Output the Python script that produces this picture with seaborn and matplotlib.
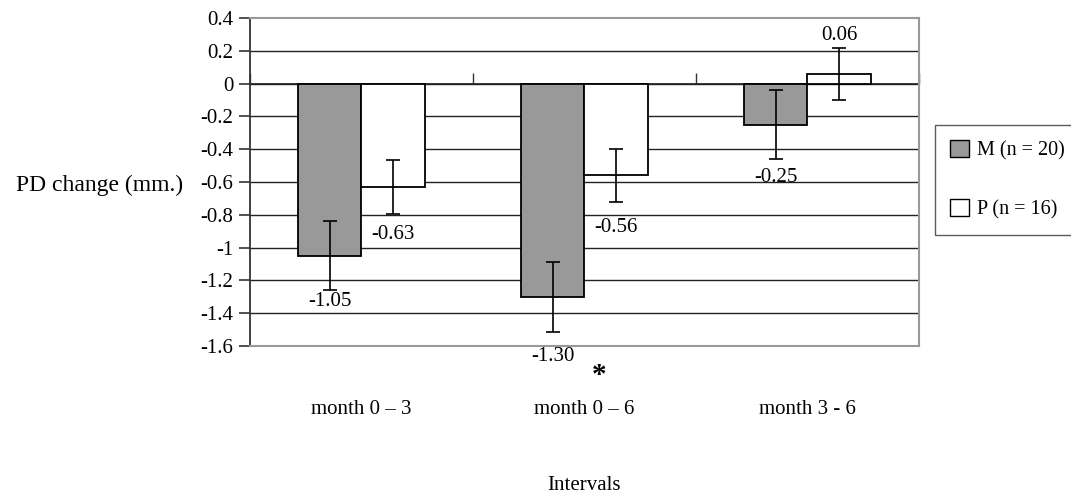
import matplotlib
matplotlib.use("Agg")
import matplotlib.pyplot as plt
import seaborn as sns
import pandas as pd
import numpy as np
from matplotlib.patches import Patch

sns.set_theme(style="white")
plt.rcParams['font.family'] = ['Liberation Serif', 'DejaVu Serif']
plt.rcParams['text.color'] = 'black'
plt.rcParams['axes.labelcolor'] = 'black'
plt.rcParams['xtick.color'] = 'black'
plt.rcParams['ytick.color'] = 'black'

intervals = ["month 0 \u2013 3", "month 0 \u2013 6", "month 3 - 6"]
groups = ["M (n = 20)", "P (n = 16)"]
m_values = [-1.05, -1.30, -0.25]
p_values = [-0.63, -0.56, 0.06]
m_err = [0.21, 0.215, 0.21]
p_err = [0.165, 0.16, 0.16]
m_labels = ["-1.05", "-1.30", "-0.25"]
p_labels = ["-0.63", "-0.56", "0.06"]
yticks = [0.4, 0.2, 0, -0.2, -0.4, -0.6, -0.8, -1, -1.2, -1.4, -1.6]
ytick_labels = ["0.4", "0.2", "0", "-0.2", "-0.4", "-0.6", "-0.8", "-1", "-1.2", "-1.4", "-1.6"]

df = pd.DataFrame({
    "Interval": intervals * 2,
    "Group": [groups[0]] * 3 + [groups[1]] * 3,
    "Value": m_values + p_values,
})

FS = 15

fig = plt.figure(figsize=(10.71, 4.97), dpi=100)
ax = fig.add_axes([0.2334, 0.3038, 0.6246, 0.66])

colors = {groups[0]: "#999999", groups[1]: "#ffffff"}
sns.barplot(data=df, x="Interval", y="Value", hue="Group", palette=colors,
            width=0.57, edgecolor="black", linewidth=1.3, ax=ax, legend=False,
            errorbar=None, zorder=3)

ax.set_ylim(-1.6, 0.4)
ax.set_xlim(-0.5, 2.5)

# gridlines
for yv in yticks[1:-1]:
    ax.axhline(yv, color="#222222", lw=1.0, zorder=1)

# error bars and labels
errs = [m_err, p_err]
labels = [m_labels, p_labels]
offsets = [[-46, -60, -53], [-48, -52, 38]]
bar_containers = list(ax.containers)
for ci, cont in enumerate(bar_containers):
    for bi, bar in enumerate(cont.patches):
        xc = bar.get_x() + bar.get_width() / 2
        val = bar.get_height()
        ax.errorbar(xc, val, yerr=errs[ci][bi], fmt="none", ecolor="black",
                    elinewidth=1.2, capsize=5, capthick=1.2, zorder=4)
        ax.annotate(labels[ci][bi], (xc, val), xytext=(0, offsets[ci][bi] * 0.72),
                    textcoords="offset points", ha="center", va="center",
                    fontsize=FS, color="black", zorder=5)

# spines
for s in ["top", "right", "bottom"]:
    ax.spines[s].set_color("#999999")
    ax.spines[s].set_linewidth(1.5)
ax.spines["left"].set_color("#333333")
ax.spines["left"].set_linewidth(1.3)

ax.set_yticks(yticks)
ax.set_yticklabels(ytick_labels, fontsize=FS)
ax.tick_params(axis="y", direction="out", length=8, width=1.2, color="#333333",
               left=True, pad=4)

ax.set_xticks(range(3))
ax.set_xticklabels(intervals, fontsize=FS)
ax.tick_params(axis="x", length=0, pad=39)

# x axis at zero with boundary ticks
sec = ax.secondary_xaxis(0.8)
sec.set_xticks([-0.5, 0.5, 1.5, 2.5])
sec.set_xticklabels([])
sec.tick_params(direction="out", length=8, width=1.0, color="#333333")
sec.spines["bottom"].set_color("#222222")
sec.spines["bottom"].set_linewidth(1.6)

ax.set_xlabel("Intervals", fontsize=FS, labelpad=41)
ax.set_ylabel("PD change (mm.)", fontsize=17, rotation=0, ha="right", va="center")
ax.yaxis.set_label_coords(-0.100, 0.49)

ax.text(1.067, -1.78, "*", fontsize=21, fontweight="bold", ha="center", va="center")

handles = [Patch(facecolor="#999999", edgecolor="black", label=groups[0]),
           Patch(facecolor="white", edgecolor="black", label=groups[1])]
leg = fig.legend(handles=handles, loc="upper left", bbox_to_anchor=(0.873, 0.7485),
                 fontsize=14.5, frameon=True, fancybox=False, edgecolor="#333333",
                 handlelength=0.95, handleheight=0.95, labelspacing=1.9,
                 borderpad=0.75, handletextpad=0.4, borderaxespad=0)
leg.get_frame().set_linewidth(1.0)

fig.savefig("out.png", dpi=100, facecolor="white")
